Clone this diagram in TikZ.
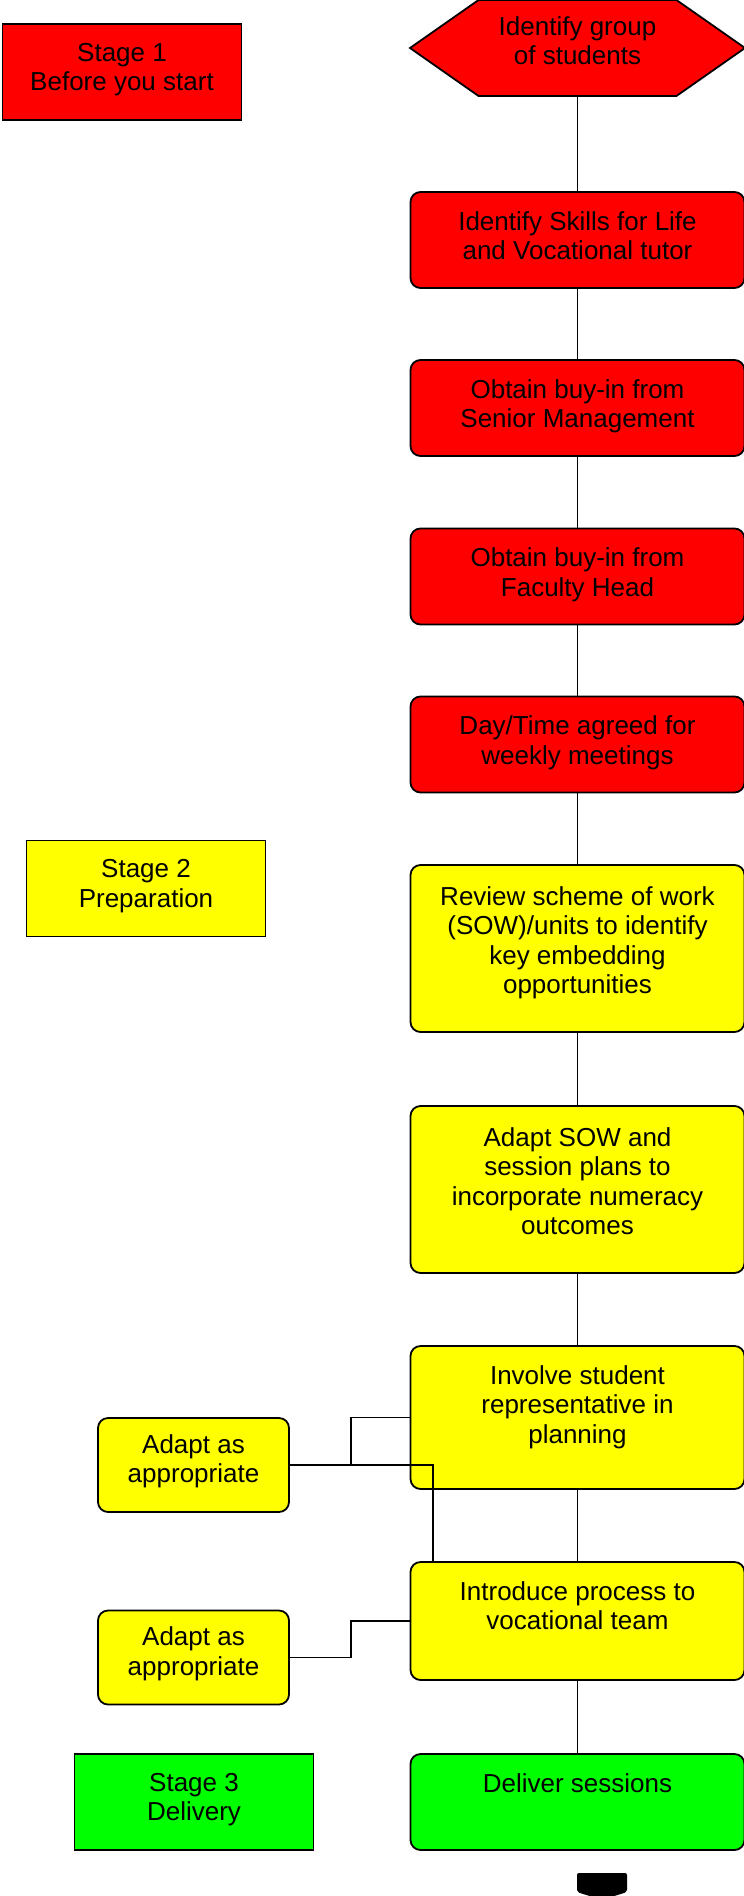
\documentclass[tikz,border=0pt]{standalone}
\usepackage{fontspec}
\setmainfont{Liberation Sans}
\usetikzlibrary{shapes.symbols}
\definecolor{stagered}{RGB}{255,0,0}
\definecolor{stageyellow}{RGB}{255,255,0}
\definecolor{stagegreen}{RGB}{0,255,0}

\begin{document}
\begin{tikzpicture}
    [   x=1pt,y=-1pt,
        stepnode/.style={draw=black,line width=1.8pt,fill=#1,rounded corners=10pt,minimum width=334pt,minimum height=96pt},
        stagenode/.style={draw=black,line width=1.8pt,fill=#1,minimum width=239pt,minimum height=96pt},
        adaptnode/.style={draw=black,line width=1.8pt,fill=stageyellow,rounded corners=10pt,minimum width=191pt,minimum height=94pt},
        intext/.style={anchor=north,yshift=-20pt,align=center,inner sep=0pt,font=\fontsize{26}{29.5}\selectfont},
        link/.style={draw=black,line width=1.8pt},
    ]
    \useasboundingbox (0,0) rectangle (744,1896);

    % stages on the left
    \node[stagenode=stagered,label={[intext]north:{Stage 1\\Before you start}}] (stage1) at (122,72) {};
    \node[stagenode=stageyellow,label={[intext]north:{Stage 2\\Preparation}}] (stage2) at (146,888.5) {};
    \node[stagenode=stagegreen,label={[intext]north:{Stage 3\\Delivery}}] (stage3) at (194,1802) {};

    % main column
    \node[signal,signal to=west and east,signal pointer angle=70,draw=black,line width=1.8pt,fill=stagered,
          minimum width=335pt,minimum height=96pt,inner sep=0pt,
          label={[intext,yshift=3pt]north:{Identify group\\of students}}] (group) at (577.5,48) {};
    \node[stepnode=stagered,label={[intext]north:{Identify Skills for Life\\and Vocational tutor}}] (skills) at (577.5,240) {};
    \node[stepnode=stagered,label={[intext]north:{Obtain buy-in from\\Senior Management}}] (senior) at (577.5,408) {};
    \node[stepnode=stagered,label={[intext]north:{Obtain buy-in from\\Faculty Head}}] (faculty) at (577.5,576.5) {};
    \node[stepnode=stagered,label={[intext]north:{Day/Time agreed for\\weekly meetings}}] (meetings) at (577.5,744.5) {};
    \node[stepnode=stageyellow,minimum height=167pt,label={[intext,yshift=-2pt]north:{Review scheme of work\\(SOW)/units to identify\\key embedding\\opportunities}}] (review) at (577.5,948.5) {};
    \node[stepnode=stageyellow,minimum height=167pt,label={[intext,yshift=-2pt]north:{Adapt SOW and\\session plans to\\incorporate numeracy\\outcomes}}] (adaptsow) at (577.5,1189.5) {};
    \node[stepnode=stageyellow,minimum height=143pt,label={[intext]north:{Involve student\\representative in\\planning}}] (involve) at (577.5,1417.5) {};
    \node[stepnode=stageyellow,minimum height=118pt,label={[intext]north:{Introduce process to\\vocational team}}] (intro) at (577.5,1621) {};
    \node[stepnode=stagegreen,label={[intext]north:{Deliver sessions}}] (deliver) at (577.5,1802) {};

    % side boxes
    \node[adaptnode,label={[intext,yshift=3pt]north:{Adapt as\\appropriate}}] (adapt1) at (193.5,1465) {};
    \node[adaptnode,label={[intext,yshift=3pt]north:{Adapt as\\appropriate}}] (adapt2) at (193.5,1657.5) {};

    \foreach \a/\b in {group/skills,skills/senior,senior/faculty,faculty/meetings,meetings/review,
                       review/adaptsow,adaptsow/involve,involve/intro,intro/deliver}
    {   \draw[link] (\a) -- (\b);
    }
    \draw[link] (adapt1.east) -- ([xshift=61pt]adapt1.east) |- (involve.west);
    \draw[link] (adapt1.east) -| ([xshift=23pt]intro.north west);
    \draw[link] (adapt2.east) -- ([xshift=61pt]adapt2.east) |- (intro.west);

    % off-page tab
    \fill[black,rounded corners=2pt] (577,1873) -- (627,1873) -- (627,1892) .. controls (602,1900) .. (577,1892) -- cycle;
\end{tikzpicture}
\end{document}
